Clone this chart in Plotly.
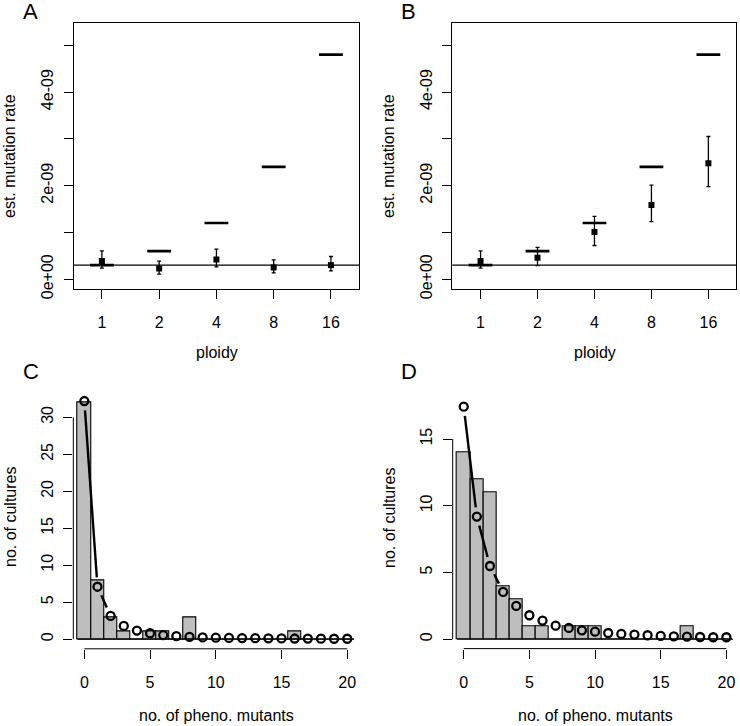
import math
import plotly.graph_objects as go

# ---- data ----
ploidy_labels = ["1", "2", "4", "8", "16"]
expected_rate = [0.3e-9, 0.6e-9, 1.2e-9, 2.4e-9, 4.8e-9]
baseline_rate = 0.3e-9

est_A = [0.386e-9, 0.227e-9, 0.42e-9, 0.25e-9, 0.30e-9]
hi_A = [0.607e-9, 0.386e-9, 0.644e-9, 0.414e-9, 0.485e-9]
lo_A = [0.236e-9, 0.107e-9, 0.264e-9, 0.135e-9, 0.178e-9]

est_B = [0.386e-9, 0.457e-9, 1.008e-9, 1.588e-9, 2.48e-9]
hi_B = [0.607e-9, 0.68e-9, 1.343e-9, 2.01e-9, 3.05e-9]
lo_B = [0.236e-9, 0.29e-9, 0.72e-9, 1.23e-9, 1.98e-9]

mutants = [0, 1, 2, 3, 4, 5, 6, 7, 8, 9, 10, 11, 12, 13, 14, 15, 16, 17, 18, 19, 20]
observed_C = [32, 8, 3, 1, 0, 1, 1, 0, 3, 0, 0, 0, 0, 0, 0, 0, 1, 0, 0, 0, 0]
expected_C = [32.2, 7.1, 3.15, 1.8, 1.17, 0.81, 0.56, 0.42, 0.32, 0.25, 0.21,
              0.18, 0.16, 0.14, 0.12, 0.11, 0.10, 0.09, 0.08, 0.07, 0.07]
observed_D = [14, 12, 11, 4, 3, 1, 1, 0, 1, 1, 1, 0, 0, 0, 0, 0, 0, 1, 0, 0, 0]
expected_D = [17.43, 9.19, 5.49, 3.55, 2.5, 1.8, 1.4, 1.02, 0.85, 0.67, 0.57,
              0.47, 0.40, 0.35, 0.30, 0.25, 0.22, 0.20, 0.17, 0.15, 0.15]

W, H = 740, 726
FONT = "Liberation Sans, Arial, sans-serif"


def fx(p):
    return p / W


def fy(p):
    return 1 - p / H


# panel boxes in pixels: (left, right, top, bottom)
box = {
    "A": (73.5, 359, 23.3, 289),
    "B": (452.3, 736.3, 23.3, 289),
    "C": (73.3, 358.3, 391.4, 648.8),
    "D": (452.7, 737.4, 397.3, 648.6),
}
xr_top = [-0.496, 4.49]
yr_top = [-0.21e-9, 5.47e-9]
xr_bot = [-0.84, 20.84]
yr_C = [-1.29, 33.5]
yr_D = [-0.70, 18.13]


def b_lines(xs, ys, b, xr, yr, gap=9.3):
    # lines between points with gaps round the symbols (R type="b")
    sx = (b[1] - b[0]) / (xr[1] - xr[0])
    sy = (b[3] - b[2]) / (yr[1] - yr[0])
    lx, ly = [], []
    for i in range(len(xs) - 1):
        dx = (xs[i + 1] - xs[i]) * sx
        dy = (ys[i + 1] - ys[i]) * sy
        L = math.hypot(dx, dy)
        if L <= 2 * gap:
            continue
        f = gap / L
        lx += [xs[i] + (xs[i + 1] - xs[i]) * f, xs[i + 1] - (xs[i + 1] - xs[i]) * f, None]
        ly += [ys[i] + (ys[i + 1] - ys[i]) * f, ys[i + 1] - (ys[i + 1] - ys[i]) * f, None]
    return lx, ly


fig = go.Figure()

# top panels
for k, (est, hi, lo) in zip(["", "2"], [(est_A, hi_A, lo_A), (est_B, hi_B, lo_B)]):
    fig.add_trace(go.Scatter(
        x=ploidy_labels, y=expected_rate, mode="markers", xaxis="x" + k, yaxis="y" + k,
        marker=dict(symbol="line-ew", size=17, line=dict(width=2.6, color="black")),
        showlegend=False, hoverinfo="skip"))
    fig.add_trace(go.Scatter(
        x=ploidy_labels, y=est, mode="markers", xaxis="x" + k, yaxis="y" + k,
        marker=dict(symbol="square", size=6, color="black"),
        error_y=dict(type="data", symmetric=False,
                     array=[h - e for h, e in zip(hi, est)],
                     arrayminus=[e - l for e, l in zip(est, lo)],
                     width=2, thickness=1.3, color="black"),
        showlegend=False))
    fig.add_shape(type="line", xref="x" + k + " domain", x0=0, x1=1,
                  yref="y" + k, y0=baseline_rate, y1=baseline_rate,
                  line=dict(color="black", width=1.3))

# bottom panels
for k, obs, exp_, p, yr, ymax in [("3", observed_C, expected_C, "C", yr_C, 30),
                                  ("4", observed_D, expected_D, "D", yr_D, 15)]:
    fig.add_trace(go.Scatter(
        x=[mutants[0] - 0.5, mutants[-1] + 0.5], y=[0, 0], mode="lines",
        xaxis="x" + k, yaxis="y" + k, line=dict(color="black", width=1.2),
        showlegend=False, hoverinfo="skip"))
    fig.add_trace(go.Bar(
        x=mutants, y=obs, width=1, xaxis="x" + k, yaxis="y" + k,
        marker=dict(color="#bebebe", line=dict(color="black", width=1.1)),
        showlegend=False))
    lx, ly = b_lines(mutants, exp_, box[p], xr_bot, yr)
    fig.add_trace(go.Scatter(
        x=lx, y=ly, mode="lines", xaxis="x" + k, yaxis="y" + k,
        line=dict(color="black", width=2.4), showlegend=False, hoverinfo="skip"))
    fig.add_trace(go.Scatter(
        x=mutants, y=exp_, mode="markers", xaxis="x" + k, yaxis="y" + k,
        marker=dict(symbol="circle-open", size=8, color="black", line=dict(width=2.3)),
        showlegend=False))
    # R style axis lines that run only between the first and last tick
    fig.add_shape(type="line", xref="x" + k, x0=0, x1=20, yref="y" + k + " domain", y0=0, y1=0,
                  line=dict(color="black", width=1))
    fig.add_shape(type="line", xref="x" + k + " domain", x0=0, x1=0, yref="y" + k, y0=0, y1=ymax,
                  line=dict(color="black", width=1))

tickfont = dict(family=FONT, size=16, color="black")
common = dict(ticks="outside", ticklen=9, tickwidth=1, tickcolor="black",
              tickfont=tickfont, showgrid=False, zeroline=False)

layout = dict(
    width=W, height=H, margin=dict(l=0, r=0, t=0, b=0, autoexpand=False),
    plot_bgcolor="white", paper_bgcolor="white", bargap=0,
    font=dict(family=FONT, size=16, color="black"),
)
for k, p in [("", "A"), ("2", "B")]:
    b = box[p]
    layout["xaxis" + k] = dict(domain=[fx(b[0]), fx(b[1])], anchor="y" + k, type="category",
                              range=xr_top, showline=True, mirror=True, linecolor="black",
                              linewidth=1, ticklabelstandoff=10, **common)
    layout["yaxis" + k] = dict(domain=[fy(b[3]), fy(b[2])], anchor="x" + k, range=yr_top,
                              tickvals=[0, 1e-9, 2e-9, 3e-9, 4e-9, 5e-9],
                              ticktext=["0e+00", "", "2e-09", "", "4e-09", ""],
                              tickangle=-90, showline=True, mirror=True, linecolor="black",
                              linewidth=1, ticklabelstandoff=4, **common)
for k, p, yr, tv in [("3", "C", yr_C, [0, 5, 10, 15, 20, 25, 30]), ("4", "D", yr_D, [0, 5, 10, 15])]:
    b = box[p]
    layout["xaxis" + k] = dict(domain=[fx(b[0]), fx(b[1])], anchor="y" + k, range=xr_bot,
                              tickvals=[0, 5, 10, 15, 20], showline=False,
                              ticklabelstandoff=10, **common)
    layout["yaxis" + k] = dict(domain=[fy(b[3]), fy(b[2])], anchor="x" + k, range=yr,
                              tickvals=tv, tickangle=-90, showline=False,
                              ticklabelstandoff=4, **common)

fig.update_layout(**layout)

ann = []
for txt, x, y in [("A", 21, 12), ("B", 399, 12), ("C", 21, 371), ("D", 399, 371)]:
    ann.append(dict(text=txt, x=fx(x), y=fy(y), xref="paper", yref="paper",
                    xanchor="left", yanchor="middle", showarrow=False,
                    font=dict(family=FONT, size=22, color="black")))
for txt, x, y, ang in [("est. mutation rate", 10, 156, -90), ("est. mutation rate", 389, 156, -90),
                       ("ploidy", 216.5, 352, 0), ("ploidy", 595, 352, 0),
                       ("no. of cultures", 10, 517, -90), ("no. of cultures", 389, 517, -90),
                       ("no. of pheno. mutants", 216, 715, 0), ("no. of pheno. mutants", 595, 715, 0)]:
    ann.append(dict(text=txt, x=fx(x), y=fy(y), xref="paper", yref="paper",
                    xanchor="center", yanchor="middle", textangle=ang, showarrow=False,
                    font=dict(family=FONT, size=16, color="black")))
fig.update_layout(annotations=ann)

# page body has a default 8px margin; drop it so the figure sits at the window corner
fig.write_html("out.html", config={"displayModeBar": False},
               post_script="document.body.style.margin='0';")
